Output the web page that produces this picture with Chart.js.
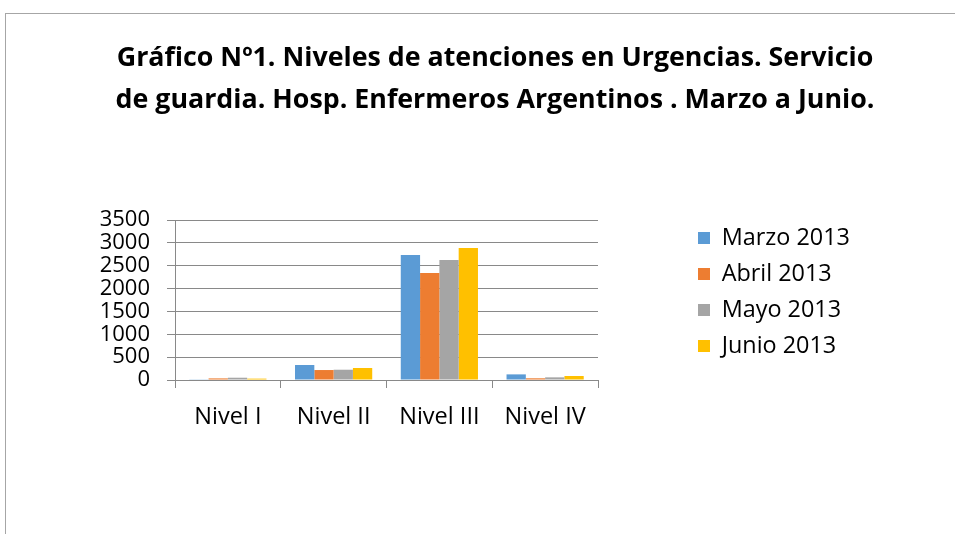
<!DOCTYPE html>
<html>
<head>
<meta charset="utf-8">
<script src="https://cdn.jsdelivr.net/npm/chart.js@4/dist/chart.umd.min.js"></script>
<style>
  html, body { margin: 0; padding: 0; background: #fff; overflow: hidden; }
  #frame { position: absolute; left: 5px; top: 13px; width: 1000px; height: 600px; border-left: 1px solid #a6a6a6; border-top: 1px solid #a6a6a6; }
  #wrap { position: absolute; left: 0; top: 0; width: 955px; height: 534px; }
</style>
</head>
<body>
<div id="frame"></div>
<div id="wrap"><canvas id="c" width="955" height="534"></canvas></div>
<script>
const titleLines = ['Gráfico Nº1. Niveles de atenciones en Urgencias. Servicio', 'de guardia. Hosp. Enfermeros Argentinos . Marzo a Junio.'];
const categories = ['Nivel I', 'Nivel II', 'Nivel III', 'Nivel IV'];
const seriesNames = ['Marzo 2013', 'Abril 2013', 'Mayo 2013', 'Junio 2013'];
const marzo = [15, 328, 2733, 123];
const abril = [35, 218, 2342, 37];
const mayo = [50, 225, 2625, 58];
const junio = [30, 262, 2885, 87];
const yMax = 3500;
const yStep = 500;
const colors = ['#5B9BD5', '#ED7D31', '#A5A5A5', '#FFC000'];

const FONT = "'Open Sans', 'Liberation Sans', sans-serif";
const seriesData = [marzo, abril, mayo, junio];

// layout constants (px)
const PAD_L = 40, PAD_R = 5, PLOT_RIGHT = 598, LEG_PAD = 12.6, LEG_FONT = 23.4, LEG_GAP = 87.4;

new Chart(document.getElementById('c'), {
  type: 'bar',
  data: {
    labels: categories,
    datasets: seriesNames.map((n, i) => ({
      label: n,
      data: seriesData[i],
      backgroundColor: colors[i],
      borderWidth: 0,
      categoryPercentage: 0.73,
      barPercentage: 1.0
    }))
  },
  options: {
    responsive: false,
    animation: false,
    devicePixelRatio: 1,
    layout: { padding: { left: PAD_L, right: PAD_R, top: 0, bottom: 104 } },
    plugins: {
      title: {
        display: true,
        text: titleLines,
        color: '#000',
        font: { family: FONT, size: 26.8, weight: 'bold', lineHeight: 42 / 26.8 },
        padding: { top: 37, bottom: 99 }
      },
      legend: {
        display: true,
        position: 'right',
        align: 'start',
        fullSize: true,
        maxWidth: 300,
        title: { display: true, text: ' ', padding: 0, font: { size: 10, lineHeight: '213.7px' } },
        labels: {
          color: '#000',
          font: { family: FONT, size: LEG_FONT },
          boxWidth: 12,
          boxHeight: 12,
          padding: LEG_PAD
        }
      },
      tooltip: { enabled: false }
    },
    scales: {
      x: {
        grid: { display: true, drawOnChartArea: false, drawTicks: true, tickLength: 8, color: '#898989', offset: true },
        border: { display: true, color: '#898989' },
        ticks: { color: '#000', font: { family: FONT, size: 23.5 }, padding: 15, maxRotation: 0 },
        afterFit: (s) => { s.height = 50; }
      },
      y: {
        min: 0,
        max: yMax,
        grid: { color: '#898989', tickLength: 8 },
        border: { display: true, color: '#898989' },
        ticks: { color: '#000', font: { family: FONT, size: 22 }, padding: 17, stepSize: yStep, autoSkip: false, callback: (v) => String(v) },
        afterFit: (s) => { s.width = 135; }
      },
      spacer: {
        type: 'linear',
        position: 'right',
        display: true,
        weight: 0,
        grid: { display: false },
        border: { display: false },
        ticks: { display: false },
        afterFit: (s) => { s.width = LEG_GAP; }
      },
      spacer2: {
        type: 'linear',
        position: 'right',
        display: true,
        weight: 2000,
        grid: { display: false },
        border: { display: false },
        ticks: { display: false },
        afterFit: (s) => {
          const lw = s.chart.legend ? s.chart.legend.width : 0;
          s.width = Math.max(0, s.chart.width - PAD_R - PLOT_RIGHT - LEG_GAP - lw);
        }
      }
    }
  }
});
</script>
</body>
</html>
